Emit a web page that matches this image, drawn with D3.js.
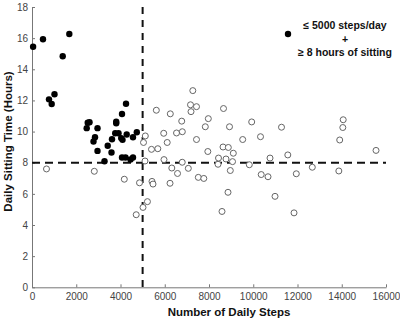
<!DOCTYPE html>
<html>
<head>
<meta charset="utf-8">
<script src="https://cdn.jsdelivr.net/npm/d3@7"></script>
<style>
    body { margin: 0; background: #fff; }
</style>
</head>
<body>
<svg id="drawing_region"></svg>
<script>
// [daily steps, daily sitting hours]
const lowStepHighSit = [
    [50, 15.45], [497, 15.93], [1686, 16.27], [1388, 14.84],
    [768, 12.07], [1017, 12.40], [890, 11.77],
    [2518, 10.57], [2600, 10.60], [2472, 10.22], [2961, 10.22],
    [2848, 9.64], [2780, 9.36], [2961, 8.76], [3277, 8.09],
    [3422, 9.09], [3593, 8.66], [3616, 9.51], [3761, 9.89],
    [3806, 10.63], [3806, 10.53], [3910, 9.89], [4068, 11.13],
    [4249, 11.79], [4032, 9.58], [4091, 9.47], [4280, 9.81],
    [4565, 9.64], [4737, 9.96], [4068, 8.34], [4226, 8.34],
    [4452, 8.21], [4565, 8.34]
];

const otherSubjects = [
    [655, 7.60], [2816, 7.45], [4172, 6.94], [4859, 6.71], [4710, 4.66],
    [5217, 5.50], [5017, 5.13], [5040, 9.30], [5122, 9.72], [5108, 8.11],
    [5401, 8.86], [5686, 8.90], [5424, 6.80], [5469, 6.63], [5966, 8.20],
    [5620, 11.37], [6251, 11.14], [6767, 10.67], [7268, 12.63], [7164, 11.72],
    [7435, 11.60], [7187, 11.28], [5953, 9.89], [6532, 9.91], [6794, 9.99],
    [6111, 9.30], [7435, 9.49], [6319, 7.66], [6238, 6.68], [6577, 7.31],
    [6790, 8.03], [7065, 7.64], [7517, 7.06], [7765, 6.99], [7969, 10.83],
    [8656, 11.48], [7833, 10.31], [8927, 10.31], [7947, 8.72], [8634, 9.01],
    [8873, 8.98], [8430, 8.30], [8769, 8.24], [9099, 8.61], [9063, 8.07],
    [8963, 7.50], [8408, 7.90], [8859, 6.10], [8588, 4.87], [9930, 10.62],
    [11277, 10.28], [9523, 9.49], [10328, 9.67], [9822, 7.87], [10758, 8.30],
    [11562, 8.50], [10360, 7.24], [10667, 7.10], [10984, 5.84], [11843, 4.78],
    [11946, 7.29], [12669, 7.71], [14066, 10.76], [14048, 10.26], [13908, 9.46],
    [15549, 8.79], [13868, 7.47]
];

const xTicks = [0, 2000, 4000, 6000, 8000, 10000, 12000, 14000, 16000];
const yTicks = [0, 2, 4, 6, 8, 10, 12, 14, 16, 18];
const stepCutoff = 5000;
const sitCutoff = 8;
const legendLines = ["\u2264 5000 steps/day", "+", "\u2265 8 hours of sitting"];

class ScatterPlot {
    constructor( config ){
        this.config = config;
        this.init();
    }

    init(){
        let self = this;
        const m = self.config.margin;

        self.svg = d3.select( self.config.parent )
                     .attr('width', self.config.width)
                     .attr('height', self.config.height)
                     .style('font-family', 'Arial, "Liberation Sans", sans-serif');

        self.chart = self.svg.append('g')
                         .attr('transform', `translate(${m.left}, ${m.top})`);

        self.inner_width = self.config.width - m.left - m.right;
        self.inner_height = self.config.height - m.top - m.bottom;

        self.xscale = d3.scaleLinear()
                        .domain( [0, 16000] )
                        .range( [0, self.inner_width] );

        self.yscale = d3.scaleLinear()
                        .domain( [0, 18] )
                        .range( [self.inner_height, 0] );
    }

    render(){
        let self = this;

        const xaxis = d3.axisBottom( self.xscale )
                        .tickValues( xTicks )
                        .tickFormat( d3.format('d') )
                        .tickSizeInner(-3)
                        .tickSizeOuter(0)
                        .tickPadding(6);

        const yaxis = d3.axisLeft( self.yscale )
                        .tickValues( yTicks )
                        .tickSizeInner(-3)
                        .tickSizeOuter(0)
                        .tickPadding(4);

        const xg = self.chart.append('g')
                       .attr('transform', `translate(0, ${self.inner_height})`)
                       .call( xaxis );
        const yg = self.chart.append('g').call( yaxis );

        [xg, yg].forEach( g => {
            g.selectAll('path, line').attr('stroke', '#777');
            g.selectAll('text')
             .attr('fill', '#444')
             .attr('font-size', '10px');
        });

        // cut-off lines
        self.chart.append('line')
                  .attr('x1', self.xscale(0))
                  .attr('x2', self.xscale(16000))
                  .attr('y1', self.yscale(sitCutoff))
                  .attr('y2', self.yscale(sitCutoff))
                  .attr('stroke', '#111')
                  .attr('stroke-width', 2)
                  .attr('stroke-dasharray', '8,5');

        self.chart.append('line')
                  .attr('x1', self.xscale(stepCutoff))
                  .attr('x2', self.xscale(stepCutoff))
                  .attr('y1', self.yscale(18))
                  .attr('y2', self.yscale(0))
                  .attr('stroke', '#111')
                  .attr('stroke-width', 2)
                  .attr('stroke-dasharray', '7,6');

        self.chart.selectAll('circle.other')
                  .data( otherSubjects )
                  .enter()
                  .append('circle')
                  .attr('class', 'other')
                  .attr('cx', d => self.xscale( d[0] ))
                  .attr('cy', d => self.yscale( d[1] ))
                  .attr('r', 3)
                  .attr('fill', 'white')
                  .attr('stroke', '#666')
                  .attr('stroke-width', 1);

        self.chart.selectAll('circle.low')
                  .data( lowStepHighSit )
                  .enter()
                  .append('circle')
                  .attr('class', 'low')
                  .attr('cx', d => self.xscale( d[0] ))
                  .attr('cy', d => self.yscale( d[1] ))
                  .attr('r', 3.2)
                  .attr('fill', 'black');

        // legend
        self.svg.append('circle')
                .attr('cx', 288)
                .attr('cy', 34)
                .attr('r', 3.2)
                .attr('fill', 'black');

        self.svg.selectAll('text.legend')
                .data( legendLines )
                .enter()
                .append('text')
                .attr('class', 'legend')
                .attr('x', 345)
                .attr('y', (d, i) => 29 + i * 13.5)
                .attr('text-anchor', 'middle')
                .attr('font-size', '10.5px')
                .attr('font-weight', 'bold')
                .attr('fill', '#111')
                .text( d => d );

        // axis labels
        self.svg.append('text')
                .attr('x', 229)
                .attr('y', 316)
                .attr('text-anchor', 'middle')
                .attr('font-size', '11.5px')
                .attr('font-weight', 'bold')
                .attr('fill', '#111')
                .text('Number of Daily Steps');

        self.svg.append('text')
                .attr('transform', 'translate(12, 141.5) rotate(-90)')
                .attr('text-anchor', 'middle')
                .attr('font-size', '11.5px')
                .attr('font-weight', 'bold')
                .attr('fill', '#111')
                .text('Daily Sitting Time (Hours)');
    }
}

const config = {
    parent: '#drawing_region',
    width: 400,
    height: 320,
    margin: {top: 7, right: 14, bottom: 32.7, left: 32}
};

const plot = new ScatterPlot( config );
plot.render();
</script>
</body>
</html>
